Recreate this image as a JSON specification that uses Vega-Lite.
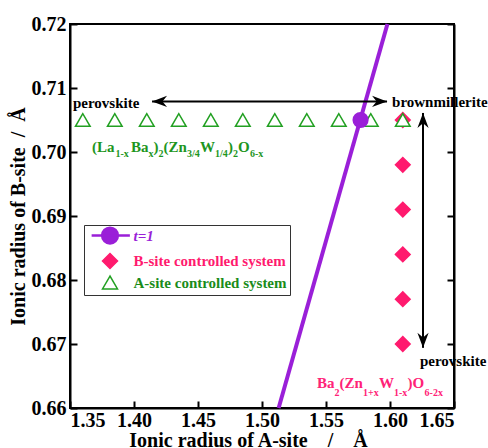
{
  "$schema": "https://vega.github.io/schema/vega-lite/v6.json",
  "width": 384,
  "height": 384,
  "autosize": {"type": "none"},
  "padding": {"left": 70, "top": 24, "right": 34, "bottom": 40},
  "background": "white",
  "config": {
    "view": {"stroke": "black", "strokeWidth": 2},
    "font": "Liberation Serif",
    "axis": {
      "labelFont": "Liberation Serif", "labelFontSize": 20, "labelFontWeight": "bold", "labelColor": "black",
      "titleFont": "Liberation Serif", "titleFontSize": 20, "titleFontWeight": "bold", "titleColor": "black",
      "grid": false, "domainColor": "black", "domainWidth": 2,
      "tickColor": "black", "tickWidth": 2, "tickSize": -7, "labelPadding": 11
    },
    "legend": {
      "labelFont": "Liberation Serif", "labelFontSize": 15, "labelFontWeight": "bold",
      "labelLimit": 300, "symbolSize": 225, "symbolStrokeWidth": 1.5,
      "rowPadding": 1.5, "labelOffset": 16, "symbolOffset": 15.5, "padding": 3,
      "strokeColor": "#333", "fillColor": "white"
    }
  },
  "datasets": {
    "tline": [
      {"rA": 1.513, "rB": 0.66},
      {"rA": 1.598, "rB": 0.72}
    ],
    "points": [
      {"series": "B-site controlled system", "rA": 1.61, "rB": 0.705},
      {"series": "B-site controlled system", "rA": 1.61, "rB": 0.698},
      {"series": "B-site controlled system", "rA": 1.61, "rB": 0.691},
      {"series": "B-site controlled system", "rA": 1.61, "rB": 0.684},
      {"series": "B-site controlled system", "rA": 1.61, "rB": 0.677},
      {"series": "B-site controlled system", "rA": 1.61, "rB": 0.670},
      {"series": "A-site controlled system", "rA": 1.36, "rB": 0.705},
      {"series": "A-site controlled system", "rA": 1.385, "rB": 0.705},
      {"series": "A-site controlled system", "rA": 1.41, "rB": 0.705},
      {"series": "A-site controlled system", "rA": 1.435, "rB": 0.705},
      {"series": "A-site controlled system", "rA": 1.46, "rB": 0.705},
      {"series": "A-site controlled system", "rA": 1.485, "rB": 0.705},
      {"series": "A-site controlled system", "rA": 1.51, "rB": 0.705},
      {"series": "A-site controlled system", "rA": 1.535, "rB": 0.705},
      {"series": "A-site controlled system", "rA": 1.56, "rB": 0.705},
      {"series": "A-site controlled system", "rA": 1.585, "rB": 0.705},
      {"series": "A-site controlled system", "rA": 1.61, "rB": 0.705},
      {"series": "t=1", "rA": 1.577, "rB": 0.705}
    ],
    "arrows": [
      {"x": 1.4141, "x2": 1.5977, "y": 0.7079, "y2": 0.7079},
      {"x": 1.6258, "x2": 1.6258, "y": 0.7061, "y2": 0.6694}
    ],
    "heads": [
      {"x": 1.4141, "y": 0.7079, "dir": "left"},
      {"x": 1.5977, "y": 0.7079, "dir": "right"},
      {"x": 1.6258, "y": 0.7061, "dir": "up"},
      {"x": 1.6258, "y": 0.6694, "dir": "down"}
    ],
    "notes": [
      {"text": "perovskite", "x": 1.3523, "y": 0.70688},
      {"text": "brownmillerite", "x": 1.6016, "y": 0.70703},
      {"text": "perovskite", "x": 1.6234, "y": 0.66656}
    ],
    "frags": [
      {"formula": "A", "role": "main", "text": "(La", "x": 1.3672, "y": 0.7},
      {"formula": "A", "role": "sub", "text": "1-x", "x": 1.3855, "y": 0.69922},
      {"formula": "A", "role": "main", "text": "Ba", "x": 1.3977, "y": 0.7},
      {"formula": "A", "role": "sub", "text": "x", "x": 1.4113, "y": 0.69922},
      {"formula": "A", "role": "main", "text": ")", "x": 1.4152, "y": 0.7},
      {"formula": "A", "role": "sub", "text": "2", "x": 1.4191, "y": 0.69922},
      {"formula": "A", "role": "main", "text": "(Zn", "x": 1.4230, "y": 0.7},
      {"formula": "A", "role": "sub", "text": "3/4", "x": 1.4414, "y": 0.69922},
      {"formula": "A", "role": "main", "text": "W", "x": 1.4516, "y": 0.7},
      {"formula": "A", "role": "sub", "text": "1/4", "x": 1.4633, "y": 0.69922},
      {"formula": "A", "role": "main", "text": ")", "x": 1.4734, "y": 0.7},
      {"formula": "A", "role": "sub", "text": "2", "x": 1.4773, "y": 0.69922},
      {"formula": "A", "role": "main", "text": "O", "x": 1.4813, "y": 0.7},
      {"formula": "A", "role": "sub", "text": "6-x", "x": 1.4906, "y": 0.69922},
      {"formula": "B", "role": "main", "text": "Ba", "x": 1.5430, "y": 0.66313},
      {"formula": "B", "role": "sub", "text": "2", "x": 1.5566, "y": 0.66188},
      {"formula": "B", "role": "main", "text": "(Zn", "x": 1.5605, "y": 0.66313},
      {"formula": "B", "role": "sub", "text": "1+x", "x": 1.5789, "y": 0.66188},
      {"formula": "B", "role": "main", "text": "W", "x": 1.5914, "y": 0.66313},
      {"formula": "B", "role": "sub", "text": "1-x", "x": 1.6031, "y": 0.66188},
      {"formula": "B", "role": "main", "text": ")", "x": 1.6137, "y": 0.66313},
      {"formula": "B", "role": "main", "text": "O", "x": 1.6176, "y": 0.66313},
      {"formula": "B", "role": "sub", "text": "6-2x", "x": 1.6270, "y": 0.66188}
    ]
  },
  "resolve": {"axis": {"y": "independent"}, "scale": {"shape": "independent"}},
  "layer": [
    {
      "data": {"name": "tline"},
      "mark": {"type": "line", "color": "#9a1fd8", "strokeWidth": 4},
      "encoding": {
        "x": {"field": "rA", "type": "quantitative",
              "scale": {"domain": [1.35, 1.65], "nice": false, "zero": false},
              "axis": {"title": "Ionic radius of A-site\u00a0\u00a0\u00a0\u00a0/\u00a0\u00a0\u00a0\u00a0\u00c5",
                       "values": [1.35, 1.4, 1.45, 1.5, 1.55, 1.6, 1.65], "format": ".2f", "labelPadding": 9,
                       "titleX": 178, "titleY": 38, "titleBaseline": "alphabetic", "titleAlign": "center"}},
        "y": {"field": "rB", "type": "quantitative",
              "scale": {"domain": [0.66, 0.72], "nice": false, "zero": false},
              "axis": {"title": "Ionic radius of B-site\u00a0\u00a0/\u00a0\u00a0\u00c5",
                       "values": [0.66, 0.67, 0.68, 0.69, 0.70, 0.71, 0.72], "format": ".2f",
                       "titleX": -46, "titleBaseline": "alphabetic"}}
      }
    },
    {
      "data": {"name": "arrows"},
      "mark": {"type": "rule", "color": "black", "strokeWidth": 2},
      "encoding": {
        "x": {"field": "x", "type": "quantitative", "scale": {"domain": [1.35, 1.65], "nice": false, "zero": false}},
        "x2": {"field": "x2"},
        "y": {"field": "y", "type": "quantitative", "scale": {"domain": [0.66, 0.72], "nice": false, "zero": false}, "axis": null},
        "y2": {"field": "y2"}
      }
    },
    {
      "data": {"name": "heads"},
      "mark": {"type": "point", "filled": true, "color": "black", "opacity": 1, "size": 64, "strokeWidth": 0},
      "encoding": {
        "x": {"field": "x", "type": "quantitative", "scale": {"domain": [1.35, 1.65], "nice": false, "zero": false}},
        "y": {"field": "y", "type": "quantitative", "scale": {"domain": [0.66, 0.72], "nice": false, "zero": false}, "axis": null},
        "shape": {"field": "dir", "type": "nominal", "legend": null,
                  "scale": {"domain": ["left", "right", "up", "down"],
                            "range": ["M0,0L3.75,-1.4L2.6,0L3.75,1.4Z", "M0,0L-3.75,-1.4L-2.6,0L-3.75,1.4Z", "M0,0L-1.4,3.75L0,2.6L1.4,3.75Z", "M0,0L-1.4,-3.75L0,-2.6L1.4,-3.75Z"]}}
      }
    },
    {
      "data": {"name": "points"},
      "mark": {"type": "point", "size": 215, "strokeWidth": 1.5, "opacity": 1},
      "encoding": {
        "x": {"field": "rA", "type": "quantitative", "scale": {"domain": [1.35, 1.65], "nice": false, "zero": false}},
        "y": {"field": "rB", "type": "quantitative", "scale": {"domain": [0.66, 0.72], "nice": false, "zero": false},
              "axis": {"orient": "right", "title": null, "labels": false,
                       "values": [0.66, 0.67, 0.68, 0.69, 0.70, 0.71, 0.72]}},
        "shape": {"field": "series", "type": "nominal", "legend": null,
                  "scale": {"domain": ["t=1", "B-site controlled system", "A-site controlled system"],
                            "range": ["circle", "diamond", "triangle-up"]}},
        "fill": {"field": "series", "type": "nominal",
                 "scale": {"domain": ["t=1", "B-site controlled system", "A-site controlled system"],
                           "range": ["#9a1fd8", "#ff1a6e", "white"]},
                 "legend": {
                    "title": null, "orient": "none", "legendX": 14, "legendY": 201,
                    "symbolType": {"expr": "datum.value === 't=1' ? 'M-2.45,0H2.65M-1.05,0A1.05,1.05 0 1,1 1.05,0A1.05,1.05 0 1,1 -1.05,0Z' : (datum.value === 'B-site controlled system' ? 'diamond' : 'triangle-up')"},
                    "symbolStrokeWidth": {"expr": "datum.value === 't=1' ? 2.5 : 1.5"},
                    "symbolStrokeColor": {"expr": "datum.value === 't=1' ? '#9a1fd8' : (datum.value === 'B-site controlled system' ? '#ff1a6e' : '#22a022')"},
                    "labelColor": {"expr": "datum.value === 't=1' ? '#9a1fd8' : (datum.value === 'B-site controlled system' ? '#ff1a6e' : '#1a8c1a')"},
                    "labelFontStyle": {"expr": "datum.value === 't=1' ? 'italic' : 'normal'"}
                 }},
        "stroke": {"field": "series", "type": "nominal", "legend": null,
                   "scale": {"domain": ["t=1", "B-site controlled system", "A-site controlled system"],
                             "range": ["#9a1fd8", "#ff1a6e", "#22a022"]}}
      }
    },
    {
      "data": {"name": "notes"},
      "mark": {"type": "text", "font": "Liberation Serif", "fontSize": 15, "fontWeight": "bold", "color": "black", "align": "left", "baseline": "alphabetic"},
      "encoding": {
        "x": {"field": "x", "type": "quantitative", "scale": {"domain": [1.35, 1.65], "nice": false, "zero": false}},
        "y": {"field": "y", "type": "quantitative", "scale": {"domain": [0.66, 0.72], "nice": false, "zero": false}, "axis": null},
        "text": {"field": "text"}
      }
    },
    {
      "data": {"name": "frags"},
      "transform": [{"filter": "datum.role === 'main'"}],
      "mark": {"type": "text", "font": "Liberation Serif", "fontSize": 15, "fontWeight": "bold", "align": "left", "baseline": "alphabetic"},
      "encoding": {
        "x": {"field": "x", "type": "quantitative", "scale": {"domain": [1.35, 1.65], "nice": false, "zero": false}},
        "y": {"field": "y", "type": "quantitative", "scale": {"domain": [0.66, 0.72], "nice": false, "zero": false}, "axis": null},
        "text": {"field": "text"},
        "color": {"field": "formula", "type": "nominal", "legend": null,
                  "scale": {"domain": ["A", "B"], "range": ["#1e961e", "#ff2277"]}}
      }
    },
    {
      "data": {"name": "frags"},
      "transform": [{"filter": "datum.role === 'sub'"}],
      "mark": {"type": "text", "font": "Liberation Serif", "fontSize": 10, "fontWeight": "bold", "align": "left", "baseline": "alphabetic"},
      "encoding": {
        "x": {"field": "x", "type": "quantitative", "scale": {"domain": [1.35, 1.65], "nice": false, "zero": false}},
        "y": {"field": "y", "type": "quantitative", "scale": {"domain": [0.66, 0.72], "nice": false, "zero": false}, "axis": null},
        "text": {"field": "text"},
        "color": {"field": "formula", "type": "nominal", "legend": null,
                  "scale": {"domain": ["A", "B"], "range": ["#1e961e", "#ff2277"]}}
      }
    }
  ]
}
